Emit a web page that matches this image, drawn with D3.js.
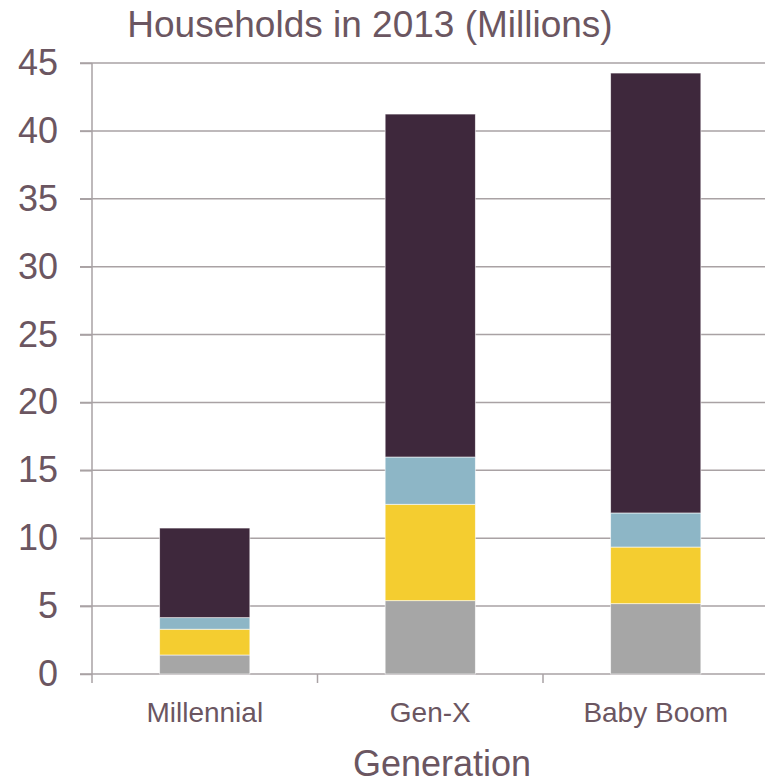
<!DOCTYPE html>
<html>
<head>
<meta charset="utf-8">
<script src="https://cdn.jsdelivr.net/npm/d3@7"></script>
<style>
  html, body { margin: 0; padding: 0; background: #fff; }
  svg { display: block; font-family: "Liberation Sans", Arial, sans-serif; }
</style>
</head>
<body>
<svg id="chart" width="765" height="784"></svg>
<script>
// Households by generation, 2013 (millions), stacked by segment
const categories = ["Millennial", "Gen-X", "Baby Boom"];
const seriesKeys = ["s1", "s2", "s3", "s4"];
const s1Values = [1.4, 5.4, 5.18];    // grey (bottom)
const s2Values = [1.9, 7.1, 4.17];    // yellow
const s3Values = [0.85, 3.48, 2.51];  // blue
const s4Values = [6.6, 25.26, 32.4];  // dark plum (top)
const yTicks = [0, 5, 10, 15, 20, 25, 30, 35, 40, 45];
const titleText = "Households in 2013 (Millions)";
const xTitleText = "Generation";

const colors = { s1: "#a6a6a6", s2: "#f4cd30", s3: "#8db6c6", s4: "#3e283c" };
const textColor = "#6b5661";
const gridColor = "#a9a2a4";

const rows = categories.map((c, i) => ({
  category: c, s1: s1Values[i], s2: s2Values[i], s3: s3Values[i], s4: s4Values[i]
}));

const svg = d3.select("#chart");
const W = 765, H = 784;
const plot = { left: 92, right: 768.5, top: 63, bottom: 674 };

const x = d3.scaleBand().domain(categories)
  .range([plot.left, plot.right]).paddingInner(0.6).paddingOuter(0.3);
const y = d3.scaleLinear().domain([0, 45]).range([plot.bottom, plot.top]);

// horizontal gridlines (start at the tick-mark left end)
svg.append("g").selectAll("line").data(yTicks).join("line")
  .attr("x1", plot.left - 12).attr("x2", W)
  .attr("y1", d => y(d)).attr("y2", d => y(d))
  .attr("stroke", gridColor).attr("stroke-width", 1.5);

// stacked bars
const stack = d3.stack().keys(seriesKeys)(rows);
svg.append("g").selectAll("g").data(stack).join("g")
  .attr("fill", d => colors[d.key])
  .selectAll("rect").data(d => d).join("rect")
  .attr("x", d => x(d.data.category))
  .attr("width", x.bandwidth())
  .attr("y", d => y(d[1]))
  .attr("height", d => y(d[0]) - y(d[1]))
  .attr("stroke", "#ffffff").attr("stroke-width", 0.8).attr("stroke-opacity", 0.7);

// y axis
const yAxis = svg.append("g").attr("transform", `translate(${plot.left},0)`)
  .call(d3.axisLeft(y).tickValues(yTicks).tickSize(12).tickPadding(22).tickFormat(d3.format("d")));
yAxis.select(".domain").remove();
yAxis.selectAll(".tick line").attr("stroke", gridColor).attr("stroke-width", 1.5);
yAxis.selectAll(".tick text").attr("fill", textColor)
  .style("font-size", "36px").style("font-family", "Liberation Sans, Arial, sans-serif");
yAxis.append("line")
  .attr("x1", 0).attr("x2", 0)
  .attr("y1", y(45)).attr("y2", y(0) + 9)
  .attr("stroke", gridColor).attr("stroke-width", 1.5);

// x axis: baseline with ticks at category boundaries
const step = x.step();
const boundaries = categories.map(c => x(c) - step * x.paddingInner() / 2)
  .concat([x(categories[categories.length - 1]) + x.bandwidth() + step * x.paddingInner() / 2]);
const xAxis = svg.append("g");
xAxis.selectAll("line.tk").data(boundaries.slice(1)).join("line")
  .attr("class", "tk")
  .attr("x1", d => d).attr("x2", d => d)
  .attr("y1", y(0)).attr("y2", y(0) + 9)
  .attr("stroke", gridColor).attr("stroke-width", 1.5);
xAxis.selectAll("text").data(categories).join("text")
  .attr("x", d => x(d) + x.bandwidth() / 2)
  .attr("y", 722)
  .attr("text-anchor", "middle")
  .attr("fill", textColor)
  .style("font-size", "28px")
  .text(d => d);

// titles
svg.append("text")
  .attr("x", 370).attr("y", 37)
  .attr("text-anchor", "middle")
  .attr("fill", textColor)
  .style("font-size", "37px")
  .text(titleText);

svg.append("text")
  .attr("x", 442).attr("y", 776)
  .attr("text-anchor", "middle")
  .attr("fill", textColor)
  .style("font-size", "36px")
  .text(xTitleText);
</script>
</body>
</html>
